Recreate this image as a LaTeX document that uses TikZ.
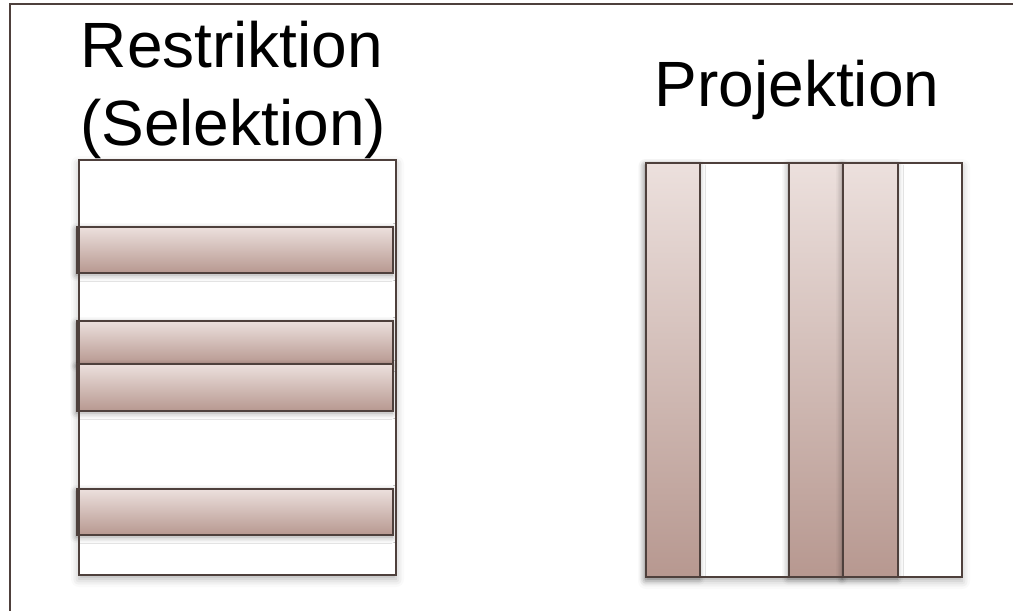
\documentclass[tikz,border=0pt]{standalone}
\usepackage{fontspec}
\setmainfont{Liberation Sans}
\usepackage{xcolor}
\usepackage{tikz}
\usetikzlibrary{shadows.blur}

\definecolor{frame}{RGB}{78,64,60}
\definecolor{bartop}{RGB}{236,224,221}
\definecolor{barbot}{RGB}{183,152,144}

\begin{document}
\begin{tikzpicture}[x=1pt,y=-1pt,
    title/.style={font=\fontsize{64}{78}\selectfont, inner sep=0pt, align=center},
    tablebox/.style={draw=frame, line width=2.5pt, fill=white,
        blur shadow={shadow xshift=0pt, shadow yshift=-4pt, shadow blur radius=8pt, shadow opacity=30}},
    rowbar/.style={draw=frame, line width=1.5pt, top color=bartop, bottom color=barbot,
        blur shadow={shadow xshift=-1pt, shadow yshift=-2pt, shadow blur radius=6pt, shadow opacity=40}}]
    \useasboundingbox (0,0) rectangle (1013,611);

    % outer frame, cut off at right and bottom
    \draw[frame, line width=2pt] (10,620) -- (10,4) -- (1020,4);

    % titles
    \node[title, anchor=base] (restr) at (232,67) {Restriktion};
    \node[title, anchor=base] (selek) at (233,145) {(Selektion)};
    \node[title, anchor=base] (proj) at (797,106) {Projektion};

    % left table: selected rows
    \draw[tablebox] (79,160) rectangle (396,575);
    \foreach \ya/\yb in {227/273,321/364,364/411,489/535}
        \draw[rowbar] (77,\ya) rectangle (393,\yb);
    \draw[frame, line width=2.5pt] (79,160) rectangle (396,575);

    % right table: projected columns
    \draw[tablebox] (646,163) rectangle (962,577);
    \foreach \xa/\xb in {646/700,789/843,843/898}
        \draw[rowbar] (\xa,163) rectangle (\xb,577);
    \draw[frame, line width=2.5pt] (646,163) rectangle (962,577);
\end{tikzpicture}
\end{document}
